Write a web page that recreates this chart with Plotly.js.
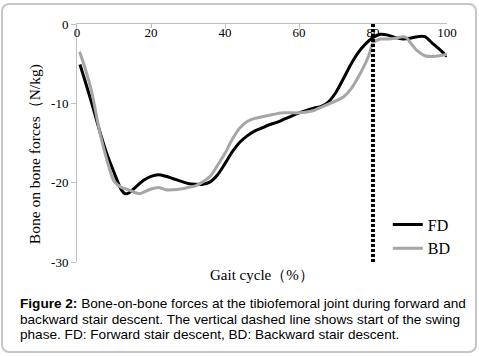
<!DOCTYPE html>
<html>
<head>
<meta charset="utf-8">
<script src="https://cdn.plot.ly/plotly-3.0.1.min.js"></script>
<style>
  html, body { margin: 0; padding: 0; background: #ffffff; }
  #wrap { position: relative; width: 479px; height: 356px; overflow: hidden; }
  #frame { position: absolute; left: 1px; top: 3px; width: 472px; height: 346px;
           border: 2px solid #c6c6c6; border-radius: 8px; background: #fff; }
  #chart { position: absolute; left: 0; top: 0; width: 479px; height: 356px; }
  #caption { position: absolute; left: 20px; top: 296px; width: 440px;
             font-family: Arial, "Liberation Sans", sans-serif; font-size: 13.6px;
             line-height: 15.5px; color: #000; }
  #caption .j { text-align: justify; text-align-last: justify; white-space: nowrap; }
  #caption .l { text-align: left; white-space: nowrap; }
</style>
</head>
<body>
<div id="wrap">
  <div id="frame"></div>
  <div id="chart"></div>
  <div id="caption">
    <div class="j"><b>Figure 2:</b> Bone-on-bone forces at the tibiofemoral joint during forward and</div>
    <div class="j">backward stair descent. The vertical dashed line shows start of the swing</div>
    <div class="l">phase. FD: Forward stair descent, BD: Backward stair descent.</div>
  </div>
</div>
<script>
// Gait cycle (%) sample positions and bone-on-bone forces (N/kg)
const fdGait = [0.8, 2, 4, 6, 8, 10, 12, 13, 14, 16, 18, 20, 22, 24, 26, 28, 30, 32, 34, 36, 38, 40, 42, 44, 46, 48, 50, 52, 54, 56, 58, 60, 62, 64, 66, 68, 70, 72, 74, 76, 78, 80, 82, 84, 86, 88, 90, 92, 94, 96, 98, 100];
const fdForce = [-5.1, -6.9, -10.0, -13.3, -16.3, -18.7, -20.9, -21.4, -21.3, -20.5, -19.7, -19.2, -19.0, -19.2, -19.5, -19.8, -20.1, -20.2, -20.2, -19.9, -19.0, -17.6, -16.1, -14.9, -14.1, -13.5, -13.1, -12.7, -12.4, -12.0, -11.6, -11.2, -10.9, -10.6, -10.4, -9.8, -8.6, -6.9, -5.1, -3.6, -2.5, -1.7, -1.3, -1.4, -1.7, -1.9, -1.8, -1.6, -1.6, -2.4, -3.2, -4.1];

const bdGait = [0.7, 2, 4, 6, 8, 10, 12, 14, 16, 17, 18, 20, 22, 24, 26, 28, 30, 32, 34, 36, 38, 40, 42, 44, 46, 48, 50, 52, 54, 56, 58, 60, 62, 64, 66, 68, 70, 72, 74, 76, 78, 79, 80, 82, 84, 86, 88, 89, 90, 92, 94, 96, 98, 100];
const bdForce = [-3.5, -5.3, -8.6, -13.3, -17.0, -19.8, -20.6, -20.9, -21.3, -21.4, -21.2, -20.8, -20.6, -20.9, -20.9, -20.8, -20.6, -20.4, -19.9, -19.2, -17.8, -16.3, -14.5, -13.1, -12.3, -11.9, -11.7, -11.5, -11.3, -11.2, -11.2, -11.2, -11.1, -10.9, -10.5, -10.1, -9.7, -9.2, -8.2, -6.7, -4.9, -3.8, -2.4, -1.9, -1.9, -1.8, -1.6, -1.7, -2.3, -3.4, -4.0, -4.1, -4.0, -3.8];

const swingStart = 80;
const xTickVals = [0, 20, 40, 60, 80, 100];
const xTickText = ['0', '20', '40', '60', '80', '100'];
const yTickVals = [0, -10, -20, -30];
const yTickText = ['0', '-10', '-20', '-30'];

const serif = '"Times New Roman", "Liberation Serif", serif';

const traces = [
  { x: fdGait, y: fdForce, name: 'FD', mode: 'lines',
    line: { color: '#000000', width: 3, shape: 'spline', smoothing: 0.8 } },
  { x: bdGait, y: bdForce, name: 'BD', mode: 'lines',
    line: { color: '#a6a6a6', width: 3, shape: 'spline', smoothing: 0.8 } }
];

const layout = {
  width: 479, height: 356,
  margin: { l: 77, r: 32, t: 24, b: 94, pad: 0 },
  paper_bgcolor: 'rgba(0,0,0,0)',
  plot_bgcolor: 'rgba(0,0,0,0)',
  showlegend: true,
  legend: { x: 0.84, y: 0.107, xanchor: 'left', yanchor: 'middle',
            bgcolor: 'rgba(0,0,0,0)', font: { family: serif, size: 16, color: '#000' },
            tracegroupgap: 0 },
  xaxis: {
    range: [0, 100], side: 'top', showgrid: false, zeroline: false,
    showline: true, linecolor: '#c0c0c0', linewidth: 1,
    ticks: 'inside', ticklen: 4, tickcolor: '#c0c0c0',
    ticklabelposition: 'inside', ticklabeloverflow: 'allow',
    tickvals: xTickVals, ticktext: xTickText,
    tickfont: { family: serif, size: 13, color: '#000' }
  },
  yaxis: {
    range: [-30, 0], showgrid: false, zeroline: false,
    showline: true, linecolor: '#c0c0c0', linewidth: 1,
    ticks: 'outside', ticklen: 5, tickcolor: '#c0c0c0',
    tickvals: yTickVals, ticktext: yTickText,
    tickfont: { family: serif, size: 13, color: '#000' }
  },
  shapes: [
    { type: 'line', xref: 'x', yref: 'paper', x0: swingStart, x1: swingStart, y0: 0, y1: 1,
      line: { color: '#000', width: 4, dash: '3px,2px' } }
  ],
  annotations: [
    { text: 'Gait cycle（%）', xref: 'paper', yref: 'paper', x: 0.5, y: -0.055,
      xanchor: 'center', yanchor: 'middle', showarrow: false,
      font: { family: serif, size: 15, color: '#000' } },
    { text: 'Bone on bone forces（N/kg)', xref: 'paper', yref: 'paper', x: -0.115, y: 0.455,
      xanchor: 'center', yanchor: 'middle', textangle: -90, showarrow: false,
      font: { family: serif, size: 15.5, color: '#000' } }
  ]
};

Plotly.newPlot('chart', traces, layout, { displayModeBar: false, staticPlot: true });
</script>
</body>
</html>
